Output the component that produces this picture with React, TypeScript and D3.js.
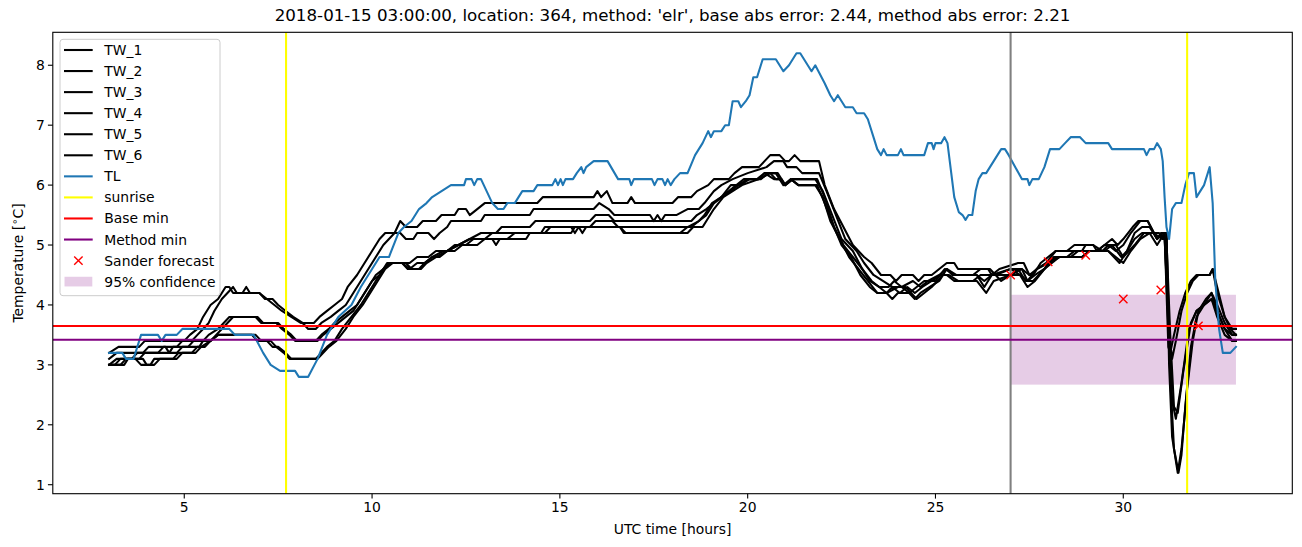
import React from 'react';
import * as d3 from 'd3';

type P = [number, number];

const TW_1: P[] = [[3.0,3.2],[3.25,3.3],[3.8,3.3],[3.95,3.4],[5.0,3.4],[5.15,3.5],[5.35,3.6],[5.5,3.8],[5.7,4.0],[5.9,4.1],[6.1,4.3],[6.2,4.3],[6.3,4.2],[6.55,4.2],[6.65,4.3],[6.75,4.2],[7.0,4.2],[7.2,4.1],[7.4,4.0],[7.6,3.9],[7.85,3.8],[8.1,3.7],[8.45,3.7],[8.6,3.8],[8.8,3.9],[9.0,4.0],[9.2,4.1],[9.35,4.3],[9.6,4.5],[9.8,4.7],[10.0,4.9],[10.2,5.1],[10.35,5.2],[10.6,5.2],[10.75,5.4],[10.9,5.3],[11.2,5.3],[11.35,5.4],[11.7,5.4],[11.85,5.5],[12.2,5.5],[12.3,5.6],[12.5,5.6],[12.6,5.5],[12.8,5.6],[13.0,5.7],[14.4,5.7],[14.55,5.8],[15.9,5.8],[16.0,5.9],[16.1,5.8],[16.25,5.9],[16.4,5.7],[16.8,5.7],[16.9,5.8],[17.0,5.7],[18.0,5.7],[18.15,5.8],[18.5,5.8],[18.65,5.9],[18.95,6.0],[19.1,6.1],[19.5,6.1],[19.65,6.2],[19.85,6.3],[20.3,6.3],[20.45,6.4],[20.6,6.5],[20.85,6.5],[21.0,6.4],[21.1,6.4],[21.25,6.5],[21.4,6.4],[21.9,6.4],[22.05,6.0],[22.3,5.6],[22.55,5.3],[22.8,5.0],[23.1,4.8],[23.3,4.7],[23.55,4.5],[23.8,4.5],[23.95,4.4],[24.1,4.5],[24.4,4.5],[24.55,4.4],[24.7,4.5],[24.9,4.5],[25.1,4.6],[25.3,4.7],[25.5,4.7],[25.6,4.6],[26.4,4.6],[26.5,4.5],[26.7,4.6],[27.2,4.7],[27.35,4.7],[27.5,4.5],[27.6,4.5],[27.8,4.7],[28.0,4.8],[28.2,4.9],[28.4,4.9],[28.9,4.9],[29.0,5.0],[29.2,5.0],[29.3,4.9],[29.5,5.0],[29.7,5.1],[29.85,5.0],[30.0,5.1],[30.25,5.3],[30.4,5.4],[30.65,5.4],[30.9,5.1],[31.0,5.2],[31.1,5.2],[31.2,3.3],[31.25,3.2],[31.35,3.5],[31.5,3.9],[31.65,4.2],[31.8,4.4],[31.95,4.5],[32.3,4.5],[32.38,4.6],[32.5,4.3],[32.7,3.8],[32.85,3.6],[33.0,3.5]];

const TW_2: P[] = [[3.0,3.0],[3.2,3.1],[3.6,3.1],[3.75,3.2],[4.3,3.2],[4.45,3.3],[4.8,3.3],[4.95,3.4],[5.2,3.4],[5.35,3.5],[5.5,3.6],[5.65,3.7],[5.8,3.9],[6.0,4.1],[6.15,4.2],[6.3,4.3],[6.4,4.2],[7.0,4.2],[7.15,4.1],[7.35,4.1],[7.5,4.0],[7.7,3.9],[7.9,3.8],[8.15,3.7],[8.3,3.6],[8.5,3.6],[8.65,3.7],[8.9,3.8],[9.1,3.9],[9.3,4.0],[9.5,4.2],[9.7,4.4],[9.9,4.6],[10.1,4.8],[10.3,5.0],[10.45,5.1],[10.6,5.2],[10.75,5.2],[10.9,5.1],[11.1,5.1],[11.2,5.2],[11.5,5.2],[11.65,5.1],[11.8,5.2],[12.0,5.3],[12.1,5.4],[12.9,5.4],[13.0,5.5],[14.2,5.5],[14.3,5.6],[15.9,5.6],[16.05,5.7],[16.3,5.6],[16.45,5.5],[17.4,5.5],[17.5,5.4],[17.6,5.5],[17.7,5.4],[17.8,5.5],[18.1,5.5],[18.4,5.6],[18.7,5.6],[18.85,5.7],[19.1,5.9],[19.3,6.0],[19.6,6.1],[20.0,6.2],[20.5,6.3],[20.7,6.4],[20.95,6.4],[21.05,6.3],[21.3,6.3],[21.45,6.2],[21.9,6.2],[22.1,5.9],[22.35,5.5],[22.6,5.1],[22.9,4.9],[23.1,4.7],[23.35,4.5],[23.6,4.4],[23.85,4.3],[24.1,4.3],[24.3,4.2],[24.5,4.3],[24.7,4.4],[25.0,4.4],[25.25,4.6],[25.5,4.5],[26.1,4.5],[26.3,4.3],[26.5,4.5],[27.0,4.5],[27.2,4.6],[27.4,4.4],[27.6,4.4],[27.9,4.6],[28.1,4.7],[28.3,4.8],[28.9,4.8],[29.1,4.9],[29.6,4.9],[29.75,4.8],[29.9,4.7],[30.1,4.9],[30.3,5.1],[30.5,5.2],[30.7,5.2],[30.9,5.0],[31.1,5.2],[31.2,3.6],[31.3,3.1],[31.4,3.4],[31.55,3.9],[31.7,4.2],[31.85,4.4],[32.0,4.5],[32.3,4.5],[32.38,4.6],[32.5,4.2],[32.7,3.8],[32.9,3.6],[33.0,3.6]];

const TW_3: P[] = [[3.0,3.0],[3.3,3.0],[3.45,3.1],[3.8,3.1],[3.95,3.2],[4.8,3.2],[4.95,3.3],[5.4,3.3],[5.5,3.4],[5.7,3.4],[5.85,3.5],[6.0,3.6],[6.15,3.7],[6.3,3.8],[6.95,3.8],[7.1,3.7],[7.45,3.7],[7.6,3.6],[7.8,3.5],[7.95,3.4],[8.5,3.4],[8.65,3.5],[8.85,3.6],[9.0,3.7],[9.2,3.8],[9.4,3.9],[9.6,4.0],[9.8,4.2],[10.0,4.4],[10.2,4.5],[10.4,4.7],[10.9,4.7],[11.05,4.6],[11.25,4.6],[11.4,4.7],[11.6,4.8],[11.8,4.8],[12.0,4.9],[12.3,5.0],[12.6,5.1],[12.9,5.2],[13.3,5.2],[13.45,5.3],[14.2,5.3],[14.35,5.4],[15.8,5.4],[15.95,5.5],[16.3,5.5],[16.45,5.4],[18.5,5.4],[18.65,5.5],[18.9,5.6],[19.1,5.7],[19.3,5.8],[19.5,5.9],[19.7,6.0],[19.9,6.1],[20.25,6.1],[20.45,6.2],[20.6,6.2],[20.75,6.1],[20.85,6.1],[21.0,6.0],[21.2,6.1],[21.8,6.1],[22.0,5.9],[22.25,5.5],[22.5,5.1],[22.8,4.9],[23.05,4.6],[23.3,4.4],[23.5,4.3],[23.7,4.2],[24.0,4.3],[24.2,4.3],[24.35,4.2],[24.5,4.1],[24.7,4.2],[24.9,4.3],[25.2,4.5],[25.35,4.5],[25.6,4.4],[26.1,4.4],[26.35,4.2],[26.55,4.4],[27.0,4.5],[27.3,4.6],[27.45,4.4],[27.65,4.5],[27.9,4.6],[28.2,4.8],[28.6,4.8],[28.8,4.9],[29.3,4.9],[29.5,5.0],[29.8,5.0],[30.0,4.8],[30.3,5.0],[30.55,5.2],[30.8,5.2],[31.05,5.1],[31.15,5.1],[31.25,3.5],[31.35,2.3],[31.45,2.2],[31.6,2.9],[31.8,3.7],[31.95,3.9],[32.15,4.0],[32.35,4.2],[32.5,4.0],[32.7,3.7],[32.9,3.5],[33.0,3.5]];

const TW_4: P[] = [[3.0,3.1],[3.2,3.2],[3.9,3.2],[4.05,3.3],[4.5,3.3],[4.6,3.2],[4.7,3.3],[5.1,3.3],[5.25,3.4],[5.5,3.4],[5.65,3.5],[5.9,3.6],[6.05,3.7],[6.2,3.8],[6.9,3.8],[7.05,3.7],[7.5,3.7],[7.65,3.6],[7.85,3.5],[8.0,3.4],[8.55,3.4],[8.7,3.5],[8.9,3.6],[9.1,3.7],[9.3,3.8],[9.5,3.9],[9.7,4.1],[9.9,4.3],[10.1,4.5],[10.3,4.6],[10.45,4.7],[10.8,4.7],[10.95,4.6],[11.3,4.6],[11.45,4.7],[11.7,4.8],[12.0,4.9],[12.3,5.0],[12.6,5.1],[13.0,5.1],[13.2,5.2],[14.5,5.2],[14.6,5.3],[15.8,5.3],[15.95,5.4],[16.4,5.4],[16.55,5.3],[18.5,5.3],[18.7,5.4],[18.9,5.5],[19.1,5.7],[19.3,5.8],[19.55,5.9],[19.75,6.0],[20.0,6.1],[20.3,6.1],[20.45,6.2],[20.7,6.1],[20.9,6.1],[21.0,6.0],[21.15,6.1],[21.35,6.0],[21.8,6.0],[22.0,5.8],[22.2,5.4],[22.45,5.1],[22.7,4.8],[22.95,4.6],[23.2,4.4],[23.45,4.2],[23.7,4.2],[23.85,4.1],[24.0,4.2],[24.3,4.2],[24.45,4.1],[24.6,4.2],[24.85,4.3],[25.1,4.4],[25.3,4.6],[25.45,4.5],[26.1,4.5],[26.3,4.4],[26.5,4.5],[27.0,4.6],[27.25,4.5],[27.45,4.4],[27.7,4.6],[28.0,4.7],[28.3,4.8],[28.9,4.8],[29.1,4.9],[29.6,4.9],[29.8,4.8],[30.0,4.7],[30.2,4.9],[30.45,5.1],[30.7,5.2],[30.95,5.2],[31.1,5.1],[31.2,3.9],[31.3,2.4],[31.4,2.1],[31.55,2.7],[31.75,3.6],[31.95,3.9],[32.15,4.0],[32.35,4.1],[32.5,3.9],[32.7,3.6],[32.9,3.5],[33.0,3.5]];

const TW_5: P[] = [[3.0,3.0],[3.4,3.0],[3.5,3.1],[3.9,3.1],[4.0,3.0],[4.2,3.0],[4.35,3.1],[4.7,3.1],[4.85,3.2],[5.3,3.2],[5.45,3.3],[5.7,3.4],[5.9,3.5],[6.8,3.5],[6.95,3.4],[7.2,3.4],[7.35,3.3],[7.5,3.3],[7.7,3.2],[7.85,3.1],[8.5,3.1],[8.65,3.2],[8.8,3.3],[9.0,3.4],[9.2,3.6],[9.45,3.8],[9.7,4.0],[9.9,4.2],[10.1,4.4],[10.3,4.6],[10.5,4.7],[11.0,4.7],[11.2,4.8],[11.5,4.8],[11.7,4.9],[12.0,4.9],[12.2,5.0],[12.5,5.0],[12.7,5.1],[13.2,5.1],[13.3,5.0],[13.4,5.1],[14.1,5.1],[14.2,5.2],[15.3,5.2],[15.4,5.3],[16.6,5.3],[16.7,5.2],[18.4,5.2],[18.55,5.3],[18.8,5.3],[18.9,5.4],[19.1,5.6],[19.35,5.8],[19.6,5.9],[19.85,6.0],[20.3,6.1],[20.6,6.2],[20.8,6.2],[21.0,6.0],[21.2,6.1],[21.85,6.1],[22.05,5.8],[22.3,5.3],[22.55,5.0],[22.8,4.8],[23.05,4.6],[23.25,4.4],[23.5,4.3],[23.75,4.3],[23.9,4.4],[24.1,4.3],[24.4,4.4],[24.6,4.3],[24.8,4.4],[25.1,4.5],[25.3,4.6],[25.55,4.5],[26.0,4.5],[26.2,4.6],[26.45,4.6],[26.6,4.5],[27.0,4.6],[27.3,4.6],[27.5,4.5],[27.7,4.6],[27.95,4.7],[28.2,4.9],[28.5,4.9],[28.7,5.0],[29.2,5.0],[29.45,4.9],[29.6,5.0],[29.8,4.9],[30.0,5.0],[30.2,5.2],[30.45,5.4],[30.65,5.4],[30.9,5.1],[31.05,5.2],[31.15,5.2],[31.22,3.0],[31.3,1.8],[31.45,1.2],[31.55,1.6],[31.7,2.6],[31.85,3.4],[32.0,3.9],[32.2,4.1],[32.35,4.2],[32.5,3.9],[32.7,3.6],[32.9,3.4],[33.0,3.4]];

const TW_6: P[] = [[3.0,3.0],[3.15,3.0],[3.3,3.1],[3.7,3.1],[3.85,3.0],[4.1,3.0],[4.2,3.1],[4.8,3.1],[4.95,3.2],[5.2,3.2],[5.35,3.3],[5.55,3.3],[5.7,3.4],[5.9,3.5],[6.9,3.5],[7.05,3.4],[7.3,3.4],[7.45,3.3],[7.65,3.2],[7.8,3.1],[8.55,3.1],[8.7,3.2],[8.85,3.3],[9.05,3.4],[9.3,3.6],[9.5,3.8],[9.75,4.0],[9.95,4.2],[10.15,4.4],[10.35,4.6],[10.55,4.7],[10.8,4.7],[11.0,4.6],[11.2,4.7],[11.4,4.7],[11.6,4.8],[11.9,4.9],[12.2,4.9],[12.4,5.0],[12.8,5.0],[13.0,5.1],[13.6,5.1],[13.8,5.2],[14.6,5.2],[14.75,5.3],[15.3,5.3],[15.4,5.2],[15.5,5.3],[15.6,5.2],[15.7,5.3],[16.6,5.3],[16.75,5.2],[18.2,5.2],[18.4,5.3],[18.7,5.4],[18.85,5.5],[19.05,5.7],[19.3,5.8],[19.55,6.0],[19.8,6.0],[20.05,6.1],[20.35,6.1],[20.55,6.2],[20.75,6.2],[20.95,6.0],[21.15,6.1],[21.35,6.0],[21.85,6.0],[22.05,5.7],[22.3,5.3],[22.5,5.0],[22.75,4.8],[23.0,4.5],[23.25,4.3],[23.45,4.2],[23.7,4.2],[23.85,4.3],[24.05,4.2],[24.25,4.3],[24.45,4.2],[24.65,4.3],[24.9,4.4],[25.15,4.5],[25.3,4.5],[25.5,4.4],[26.0,4.4],[26.2,4.5],[26.6,4.5],[26.75,4.4],[27.0,4.5],[27.25,4.5],[27.45,4.3],[27.65,4.4],[27.9,4.6],[28.15,4.8],[28.5,4.8],[28.7,4.9],[29.5,4.9],[29.7,5.0],[29.95,4.8],[30.1,4.9],[30.3,5.2],[30.5,5.3],[30.7,5.3],[30.9,5.1],[31.05,5.2],[31.15,5.2],[31.25,2.8],[31.35,1.6],[31.47,1.2],[31.55,1.5],[31.65,2.3],[31.8,3.3],[31.95,3.8],[32.15,4.0],[32.35,4.1],[32.5,3.8],[32.7,3.5],[32.9,3.4],[33.0,3.4]];

const TL: P[] = [[3.0,3.2],[3.35,3.2],[3.45,3.1],[3.65,3.1],[3.85,3.5],[4.3,3.5],[4.4,3.4],[4.5,3.5],[4.8,3.5],[4.95,3.6],[6.2,3.6],[6.35,3.5],[6.85,3.5],[7.1,3.2],[7.3,3.0],[7.55,2.9],[7.95,2.9],[8.05,2.8],[8.3,2.8],[8.55,3.1],[8.8,3.5],[9.1,3.8],[9.45,4.0],[9.7,4.3],[10.0,4.6],[10.2,4.8],[10.45,4.8],[10.7,5.2],[10.85,5.3],[11.05,5.4],[11.25,5.6],[11.45,5.7],[11.6,5.8],[11.85,5.9],[12.1,6.0],[12.45,6.0],[12.5,6.1],[12.65,6.1],[12.72,6.0],[12.8,6.1],[12.9,6.1],[13.05,5.9],[13.2,5.7],[13.35,5.6],[13.5,5.6],[13.6,5.7],[13.8,5.7],[13.9,5.8],[14.0,5.9],[14.3,5.9],[14.4,6.0],[14.8,6.0],[14.88,6.1],[14.95,6.0],[15.02,6.1],[15.08,6.0],[15.15,6.1],[15.35,6.1],[15.45,6.2],[15.57,6.3],[15.63,6.2],[15.7,6.3],[15.9,6.4],[16.27,6.4],[16.55,6.1],[16.85,6.1],[16.9,6.0],[16.97,6.1],[17.45,6.1],[17.52,6.0],[17.6,6.1],[17.73,6.1],[17.8,6.0],[17.87,6.1],[17.95,6.0],[18.05,6.1],[18.2,6.2],[18.4,6.2],[18.6,6.5],[18.8,6.7],[18.95,6.9],[19.02,6.8],[19.1,6.9],[19.3,6.9],[19.4,7.0],[19.5,7.0],[19.6,7.4],[19.75,7.4],[19.82,7.3],[19.95,7.4],[20.05,7.5],[20.15,7.8],[20.25,7.8],[20.4,8.1],[20.75,8.1],[20.85,8.0],[20.95,7.9],[21.1,8.0],[21.3,8.2],[21.4,8.2],[21.5,8.1],[21.7,7.9],[21.8,8.0],[22.05,7.7],[22.2,7.5],[22.3,7.4],[22.4,7.5],[22.5,7.4],[22.6,7.3],[22.8,7.3],[22.9,7.2],[23.1,7.2],[23.2,7.1],[23.35,6.8],[23.45,6.6],[23.55,6.5],[23.62,6.6],[23.7,6.5],[24.0,6.5],[24.08,6.6],[24.15,6.5],[24.7,6.5],[24.8,6.7],[24.9,6.7],[24.95,6.6],[25.0,6.7],[25.15,6.7],[25.24,6.8],[25.32,6.7],[25.42,6.2],[25.5,5.8],[25.62,5.55],[25.72,5.5],[25.8,5.42],[25.88,5.5],[25.98,5.5],[26.07,5.9],[26.15,6.1],[26.25,6.2],[26.35,6.2],[26.45,6.3],[26.55,6.4],[26.65,6.5],[26.75,6.6],[26.85,6.6],[26.95,6.5],[27.3,6.1],[27.45,6.1],[27.5,6.0],[27.58,6.1],[27.75,6.1],[27.9,6.3],[28.05,6.6],[28.3,6.6],[28.45,6.7],[28.6,6.8],[28.85,6.8],[29.0,6.7],[29.6,6.7],[29.7,6.6],[30.55,6.6],[30.62,6.5],[30.7,6.6],[30.82,6.6],[30.9,6.7],[31.0,6.6],[31.05,6.4],[31.1,5.8],[31.15,5.3],[31.22,5.1],[31.3,5.6],[31.4,5.7],[31.55,5.7],[31.65,6.0],[31.75,6.2],[31.88,6.2],[31.95,5.8],[32.15,6.0],[32.3,6.3],[32.38,5.7],[32.45,4.4],[32.55,3.6],[32.65,3.2],[32.85,3.2],[33.0,3.3]];

const TW_SERIES: P[][] = [TW_1, TW_2, TW_3, TW_4, TW_5, TW_6];
const TW_NAMES = ['TW_1', 'TW_2', 'TW_3', 'TW_4', 'TW_5', 'TW_6'];

const SANDER_T = [27, 28, 29, 30, 31, 32];
const SANDER_V = [4.5, 4.72, 4.83, 4.1, 4.25, 3.65];
const SUNRISE_T = [7.71, 31.7];
const NOW_T = 27.0;
const BASE_MIN = 3.65;
const METHOD_MIN = 3.42;
const CONF_T = [27, 33];
const CONF_LO = 2.67;
const CONF_HI = 4.17;

const X_TICKS = [5, 10, 15, 20, 25, 30];
const Y_TICKS = [1, 2, 3, 4, 5, 6, 7, 8];

const TITLE = "2018-01-15 03:00:00, location: 364, method: 'elr', base abs error: 2.44, method abs error: 2.21";

const W = 1302, H = 547;
const L = 52.8, R = 1292.3, T = 32.3, B = 493.7;
const FONT = 'DejaVu Sans, Liberation Sans, sans-serif';

export default function App() {
  const x = d3.scaleLinear().domain([1.5, 34.5]).range([L, R]);
  const y = d3.scaleLinear().domain([0.85, 8.55]).range([B, T]);
  const line = d3.line<P>().x(d => x(d[0])).y(d => y(d[1]));
  const lw = 2.08;

  const legendItems = [
    ...TW_NAMES.map(n => ({ label: n, kind: 'line', color: '#000000' })),
    { label: 'TL', kind: 'line', color: '#1f77b4' },
    { label: 'sunrise', kind: 'line', color: '#ffff00' },
    { label: 'Base min', kind: 'line', color: '#ff0000' },
    { label: 'Method min', kind: 'line', color: '#800080' },
    { label: 'Sander forecast', kind: 'x', color: '#ff0000' },
    { label: '95% confidence', kind: 'patch', color: '#800080' },
  ];

  const xm = (cx: number, cy: number, s: number) =>
    `M${cx - s},${cy - s}L${cx + s},${cy + s}M${cx - s},${cy + s}L${cx + s},${cy - s}`;

  return (
    <svg width={W} height={H} style={{ position: 'absolute', left: 0, top: 0, background: '#fff' }} fontFamily={FONT}>
      <rect x={0} y={0} width={W} height={H} fill="#fff" />
      <defs>
        <clipPath id="plotclip">
          <rect x={L} y={T} width={R - L} height={B - T} />
        </clipPath>
      </defs>
      <g clipPath="url(#plotclip)">
        <rect x={x(CONF_T[0])} y={y(CONF_HI)} width={x(CONF_T[1]) - x(CONF_T[0])} height={y(CONF_LO) - y(CONF_HI)} fill="#800080" fillOpacity={0.2} />
        {TW_SERIES.map((s, i) => (
          <path key={i} d={line(s) || ''} fill="none" stroke="#000" strokeWidth={lw} strokeLinejoin="round" strokeLinecap="square" />
        ))}
        <path d={line(TL) || ''} fill="none" stroke="#1f77b4" strokeWidth={lw} strokeLinejoin="round" strokeLinecap="square" />
        <line x1={x(NOW_T)} x2={x(NOW_T)} y1={T} y2={B} stroke="#808080" strokeWidth={lw} />
        {SUNRISE_T.map((t, i) => (
          <line key={i} x1={x(t)} x2={x(t)} y1={T} y2={B} stroke="#ffff00" strokeWidth={lw} />
        ))}
        <line x1={L} x2={R} y1={y(BASE_MIN)} y2={y(BASE_MIN)} stroke="#ff0000" strokeWidth={lw} />
        <line x1={L} x2={R} y1={y(METHOD_MIN)} y2={y(METHOD_MIN)} stroke="#800080" strokeWidth={lw} />
        {SANDER_T.map((t, i) => (
          <path key={i} d={xm(x(t), y(SANDER_V[i]), 4.2)} stroke="#ff0000" strokeWidth={1.4} fill="none" />
        ))}
      </g>
      {/* spines */}
      <rect x={L} y={T} width={R - L} height={B - T} fill="none" stroke="#000" strokeWidth={1.1} />
      {/* x ticks */}
      {X_TICKS.map(t => (
        <g key={t}>
          <line x1={x(t)} x2={x(t)} y1={B} y2={B + 4.9} stroke="#000" strokeWidth={1.1} />
          <text x={x(t)} y={B + 8} dy="0.76em" textAnchor="middle" fontSize={13.9} fill="#000">{t}</text>
        </g>
      ))}
      {Y_TICKS.map(t => (
        <g key={t}>
          <line x1={L - 4.9} x2={L} y1={y(t)} y2={y(t)} stroke="#000" strokeWidth={1.1} />
          <text x={L - 8} y={y(t)} dy="0.35em" textAnchor="end" fontSize={13.9} fill="#000">{t}</text>
        </g>
      ))}
      <text x={(L + R) / 2} y={534} textAnchor="middle" fontSize={13.9} fill="#000">UTC time [hours]</text>
      <text transform={`translate(23,${(T + B) / 2}) rotate(-90)`} textAnchor="middle" fontSize={13.9} fill="#000">
        Temperature [<tspan fontSize={10} dy={-5}>∘</tspan><tspan dy={5}>C]</tspan>
      </text>
      <text x={(L + R) / 2} y={21} textAnchor="middle" fontSize={16.7} fill="#000">{TITLE}</text>
      {/* legend */}
      <g>
        <rect x={60} y={39.3} width={160} height={256.4} rx={3} fill="#fff" fillOpacity={0.8} stroke="#cccccc" strokeWidth={1} />
        {legendItems.map((it, i) => {
          const cy = 50 + i * 21.06;
          return (
            <g key={it.label}>
              {it.kind === 'line' && <line x1={64} x2={92.7} y1={cy} y2={cy} stroke={it.color} strokeWidth={lw} />}
              {it.kind === 'x' && <path d={xm(78.4, cy, 4.2)} stroke={it.color} strokeWidth={1.4} fill="none" />}
              {it.kind === 'patch' && <rect x={64.5} y={cy - 4.9} width={27.8} height={9.7} fill={it.color} fillOpacity={0.2} />}
              <text x={104.3} y={cy} dy="0.36em" fontSize={13.9} fill="#000">{it.label}</text>
            </g>
          );
        })}
      </g>
    </svg>
  );
}
